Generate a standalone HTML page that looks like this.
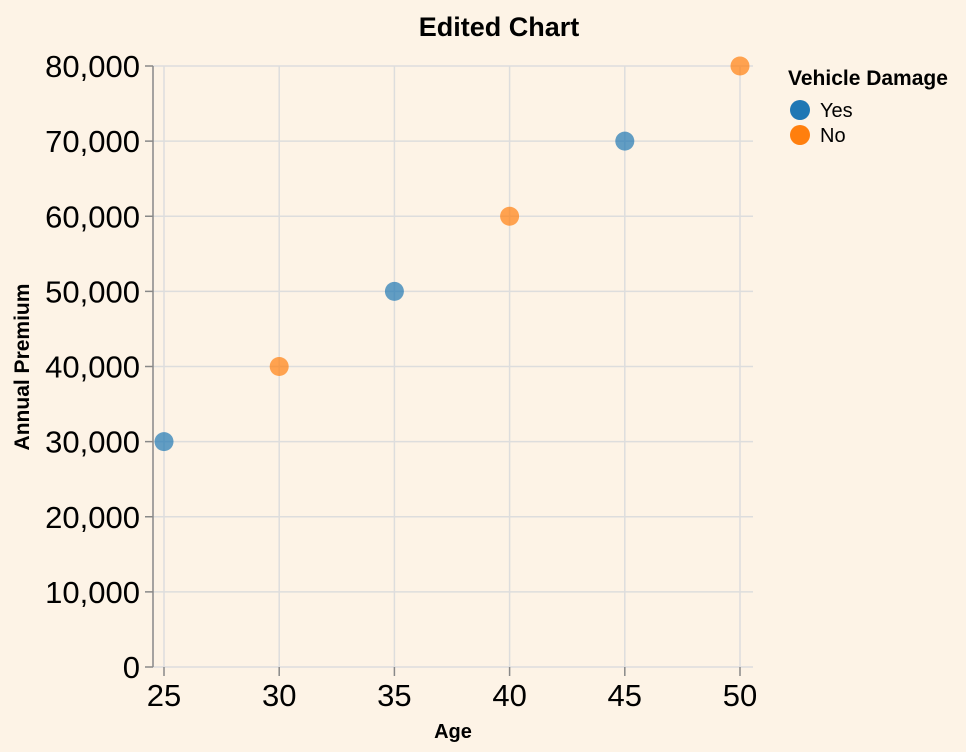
<!DOCTYPE html>
<html><head><meta charset="utf-8"><style>
body{margin:0;background:#fdf3e6;}
svg{display:block;font-family:"Liberation Sans",Arial,sans-serif;}
</style></head><body>
<svg width="966" height="752">
<rect width="966" height="752" fill="#fdf3e6"/>
<text x="499" y="36" text-anchor="middle" font-size="27" font-weight="bold">Edited Chart</text>
<g id="grid"></g><g id="axes"></g><g id="marks"></g>
<text x="453" y="738" text-anchor="middle" font-size="20" font-weight="bold">Age</text>
<text transform="translate(29,367) rotate(-90)" text-anchor="middle" font-size="21" font-weight="bold">Annual Premium</text>
<g>
<text x="788" y="85" font-size="21" font-weight="bold">Vehicle Damage</text>
<g><circle cx="800" cy="110" r="10" fill="#1f77b4"/><text x="820" y="117" font-size="20">Yes</text></g>
<g><circle cx="800" cy="135" r="10" fill="#ff7f0e"/><text x="820" y="142" font-size="20">No</text></g>
</g>
</svg>
<script>
const ages=[25,30,35,40,45,50];
const premiums=[30000,40000,50000,60000,70000,80000];
const damage=["Yes","No","Yes","No","Yes","No"];
const xTicks=[25,30,35,40,45,50];
const yTicks=[0,10000,20000,30000,40000,50000,60000,70000,80000];
const NS="http://www.w3.org/2000/svg";
const xs=v=>164+(v-25)*(740-164)/25;
const ys=v=>667-v*(667-66)/80000;
function mk(t,a,p){const e=document.createElementNS(NS,t);for(const k in a)e.setAttribute(k,a[k]);p.appendChild(e);return e;}
const grid=document.getElementById('grid'),axes=document.getElementById('axes'),marks=document.getElementById('marks');
yTicks.forEach(v=>{
const g=mk('line',{x1:153,x2:753,y1:ys(v),y2:ys(v),stroke:'#ddd','stroke-width':1.5},grid);


mk('line',{x1:145,x2:153,y1:ys(v),y2:ys(v),stroke:'#888','stroke-width':1.5},axes);
const t=mk('text',{x:140,y:ys(v)+11,'text-anchor':'end','font-size':31},axes);
t.textContent=v.toLocaleString('en-US');


});
xTicks.forEach(v=>{
const g=mk('line',{x1:xs(v),x2:xs(v),y1:66,y2:667,stroke:'#ddd','stroke-width':1.5},grid);


mk('line',{x1:xs(v),x2:xs(v),y1:667,y2:676,stroke:'#888','stroke-width':1.5},axes);
const t=mk('text',{x:xs(v),y:706,'text-anchor':'middle','font-size':31},axes);
t.textContent=v;


});
const d=mk('line',{x1:153,x2:153,y1:66,y2:667,stroke:'#888','stroke-width':1.5},axes);


ages.forEach((a,i)=>{
const c=mk('circle',{cx:xs(a),cy:ys(premiums[i]),r:9.5,fill:damage[i]==="Yes"?'#1f77b4':'#ff7f0e','fill-opacity':0.7},marks);


});
</script>
</body></html>
